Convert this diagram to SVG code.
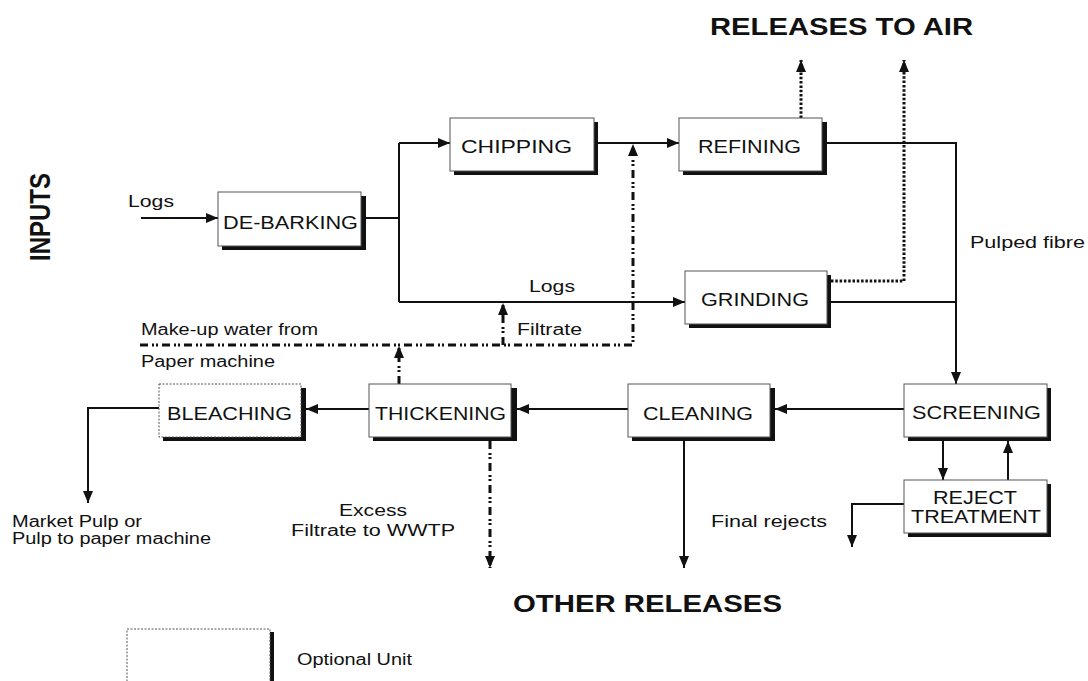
<svg xmlns="http://www.w3.org/2000/svg" width="1088" height="681" viewBox="0 0 1088 681">
<style>
.bg{fill:#fff}
.box{fill:#fff;stroke:#555;stroke-width:1}
.opt{fill:#fff;stroke:#555;stroke-width:1;stroke-dasharray:2 1.5}
.sh{fill:#111}
text{font-family:"Liberation Sans",Arial,sans-serif;fill:#111}
.lbl{font-size:18px}
.sm{font-size:16px}
.hd{font-size:24px;font-weight:bold}
.ln{fill:none;stroke:#111;stroke-width:2}
.dd{fill:none;stroke:#111;stroke-width:3;stroke-dasharray:8 4 2 2 2 4}
.dt{fill:none;stroke:#111;stroke-width:3;stroke-dasharray:2.5 1.8}
</style>
<defs>
<marker id="ah" markerUnits="userSpaceOnUse" markerWidth="12" markerHeight="10" refX="12" refY="5" orient="auto">
<path d="M0,0 L12,5 L0,10 z" fill="#111"/>
</marker>
</defs>
<rect class="bg" x="0" y="0" width="1088" height="681"/>

<text class="hd" x="710" y="35" textLength="263" lengthAdjust="spacingAndGlyphs">RELEASES TO AIR</text>
<text class="hd" x="513" y="612" textLength="269" lengthAdjust="spacingAndGlyphs">OTHER RELEASES</text>
<text class="hd" transform="translate(50,217) scale(1.2,1) rotate(-90)" text-anchor="middle" x="0" y="0">INPUTS</text>

<g id="connectors">
<path class="ln" d="M141,218 L218,218" marker-end="url(#ah)"/>
<path class="ln" d="M366,218 L399,218"/>
<path class="ln" d="M399,143 L399,302"/>
<path class="ln" d="M399,143 L450,143" marker-end="url(#ah)"/>
<path class="ln" d="M399,302 L685,302" marker-end="url(#ah)"/>
<path class="ln" d="M598,143 L679,143" marker-end="url(#ah)"/>
<path class="ln" d="M827,143 L956,143 L956,384" marker-end="url(#ah)"/>
<path class="ln" d="M831,302 L956,302"/>
<path class="dt" d="M801,118 L801,60" marker-end="url(#ah)"/>
<path class="dt" d="M831,281 L904,281 L904,60" marker-end="url(#ah)"/>
<path class="ln" d="M904,409 L775,409" marker-end="url(#ah)"/>
<path class="ln" d="M628,409 L517,409" marker-end="url(#ah)"/>
<path class="ln" d="M369,409 L306,409" marker-end="url(#ah)"/>
<path class="ln" d="M159,408 L88,408 L88,503" marker-end="url(#ah)"/>
<path class="ln" d="M684,441 L684,568" marker-end="url(#ah)"/>
<path class="dd" d="M490,441 L490,568" marker-end="url(#ah)"/>
<path class="dd" d="M399,384 L399,346" marker-end="url(#ah)"/>
<path class="dd" d="M140,345 L633,345 L633,144" marker-end="url(#ah)"/>
<path class="dd" d="M503,345 L503,303" marker-end="url(#ah)"/>
<path class="ln" d="M943,441 L943,480" marker-end="url(#ah)"/>
<path class="ln" d="M1008,480 L1008,441" marker-end="url(#ah)"/>
<path class="ln" d="M904,504 L852,504 L852,547" marker-end="url(#ah)"/>
</g>

<g id="labels">
<text class="sm" x="128" y="207" textLength="46" lengthAdjust="spacingAndGlyphs">Logs</text>
<text class="sm" x="529" y="292" textLength="46" lengthAdjust="spacingAndGlyphs">Logs</text>
<text class="sm" x="517" y="335" textLength="65" lengthAdjust="spacingAndGlyphs">Filtrate</text>
<text class="sm" x="141" y="335" textLength="177" lengthAdjust="spacingAndGlyphs">Make-up water from</text>
<text class="sm" x="141" y="367" textLength="134" lengthAdjust="spacingAndGlyphs">Paper machine</text>
<text class="sm" x="970" y="248" textLength="115" lengthAdjust="spacingAndGlyphs">Pulped fibre</text>
<text class="sm" x="711" y="527" textLength="116" lengthAdjust="spacingAndGlyphs">Final rejects</text>
<text class="sm" x="12" y="527" textLength="130" lengthAdjust="spacingAndGlyphs">Market Pulp or</text>
<text class="sm" x="12" y="544" textLength="199" lengthAdjust="spacingAndGlyphs">Pulp to paper machine</text>
<text class="sm" x="339" y="516" textLength="68" lengthAdjust="spacingAndGlyphs">Excess</text>
<text class="sm" x="291" y="536" textLength="164" lengthAdjust="spacingAndGlyphs">Filtrate to WWTP</text>
</g>

<g id="debarking">
<rect class="sh" x="222" y="196" width="144" height="54"/>
<rect class="box" x="218" y="192" width="143" height="54"/>
<text class="lbl" x="223" y="229" textLength="135" lengthAdjust="spacingAndGlyphs">DE-BARKING</text>
</g>
<g id="chipping">
<rect class="sh" x="454" y="122" width="144" height="53"/>
<rect class="box" x="450" y="118" width="144" height="53"/>
<text class="lbl" x="461" y="153" textLength="111" lengthAdjust="spacingAndGlyphs">CHIPPING</text>
</g>
<g id="refining">
<rect class="sh" x="683" y="122" width="144" height="53"/>
<rect class="box" x="679" y="118" width="143" height="53"/>
<text class="lbl" x="698" y="153" textLength="103" lengthAdjust="spacingAndGlyphs">REFINING</text>
</g>
<g id="grinding">
<rect class="sh" x="689" y="275" width="142" height="53"/>
<rect class="box" x="685" y="271" width="142" height="53"/>
<text class="lbl" x="701" y="306" textLength="108" lengthAdjust="spacingAndGlyphs">GRINDING</text>
</g>
<g id="screening">
<rect class="sh" x="908" y="388" width="143" height="53"/>
<rect class="box" x="904" y="384" width="143" height="53"/>
<text class="lbl" x="912" y="419" textLength="129" lengthAdjust="spacingAndGlyphs">SCREENING</text>
</g>
<g id="reject-treatment">
<rect class="sh" x="908" y="484" width="143" height="53"/>
<rect class="box" x="904" y="480" width="143" height="53"/>
<text class="lbl" x="933" y="504" textLength="84" lengthAdjust="spacingAndGlyphs">REJECT</text>
<text class="lbl" x="911" y="523" textLength="130" lengthAdjust="spacingAndGlyphs">TREATMENT</text>
</g>
<g id="cleaning">
<rect class="sh" x="632" y="388" width="143" height="53"/>
<rect class="box" x="628" y="384" width="142" height="53"/>
<text class="lbl" x="643" y="420" textLength="110" lengthAdjust="spacingAndGlyphs">CLEANING</text>
</g>
<g id="thickening">
<rect class="sh" x="373" y="388" width="144" height="53"/>
<rect class="box" x="369" y="384" width="142" height="53"/>
<text class="lbl" x="375" y="420" textLength="131" lengthAdjust="spacingAndGlyphs">THICKENING</text>
</g>
<g id="bleaching">
<rect class="sh" x="163" y="388" width="143" height="53"/>
<rect class="opt" x="159" y="384" width="142" height="53"/>
<text class="lbl" x="167" y="420" textLength="125" lengthAdjust="spacingAndGlyphs">BLEACHING</text>
</g>
<g id="legend">
<rect class="sh" x="270" y="632" width="4" height="60"/>
<rect class="opt" x="127" y="629" width="143" height="60"/>
<text class="sm" x="297" y="665" textLength="115" lengthAdjust="spacingAndGlyphs">Optional Unit</text>
</g>
</svg>
